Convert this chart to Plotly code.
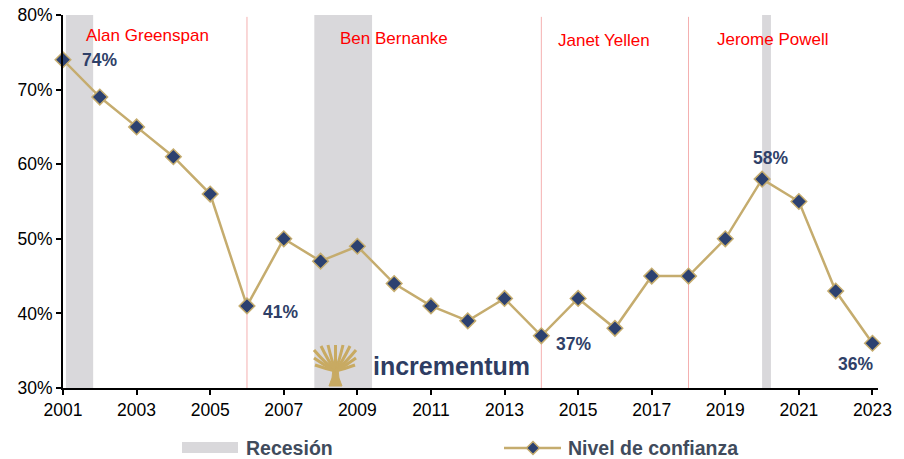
import plotly.graph_objects as go

years = list(range(2001, 2024))
confianza = [74, 69, 65, 61, 56, 41, 50, 47, 49, 44, 41, 39, 42, 37, 42, 38, 45, 45, 50, 58, 55, 43, 36]

recesiones = [(2001.08, 2001.82), (2007.83, 2009.40), (2020.0, 2020.24)]
cambios_presidente = [2006, 2014, 2018]
presidentes = ["Alan Greenspan", "Ben Bernanke", "Janet Yellen", "Jerome Powell"]
presidentes_x = [2003.3, 2010.0, 2015.7, 2020.3]
presidentes_py = [35, 38, 40, 39.5]

y_ticks = [30, 40, 50, 60, 70, 80]
y_ticktext = [f"{v}%" for v in y_ticks]
x_ticks = list(range(2001, 2024, 2))

etiquetas_anios = [2001, 2006, 2014, 2020, 2023]
etiquetas_shift = [(36, 0), (34, -6), (32, -8), (8, 21), (-17, -21)]

LINE = "#C5AC6E"
NAVY = "#2C4170"
LABEL = "#2F4068"
GRAY = "#D9D8DB"
PINK = "#F4B0B0"
GOLD = "#C8AA62"
FONT = "Liberation Sans, Arial, sans-serif"

W, H = 904, 459
ML, MR, MT, MB = 63, 26, 15, 71
PW, PH = W - ML - MR, H - MT - MB


def pxx(px):
    return (px - ML) / PW


def pxy(py):
    return (H - MB - py) / PH


fig = go.Figure()

fig.add_trace(go.Scatter(
    x=years, y=confianza, mode="lines+markers", name="Nivel de confianza",
    line=dict(color=LINE, width=2.5),
    marker=dict(symbol="diamond", size=12, color=NAVY, line=dict(color=LINE, width=1.5)),
    showlegend=False, cliponaxis=False,
))

shapes = []
for x0, x1 in recesiones:
    shapes.append(dict(type="rect", xref="x", yref="paper", x0=x0, x1=x1, y0=0, y1=1,
                       fillcolor=GRAY, line=dict(width=0), layer="below"))
for xv in cambios_presidente:
    shapes.append(dict(type="line", xref="x", yref="paper", x0=xv, x1=xv, y0=0, y1=0.995,
                       line=dict(color=PINK, width=1), layer="below"))

# logo tree (decoration)
trunk = [(329, 386), (332, 378), (333, 369), (338, 369), (339, 378), (342, 386)]
shapes.append(dict(type="path", xref="paper", yref="paper",
                   path="M " + " L ".join(f"{pxx(a):.5f},{pxy(b):.5f}" for a, b in trunk) + " Z",
                   fillcolor=GOLD, line=dict(color=GOLD, width=1)))
tree_tips = [(314, 350), (314, 358), (315, 365), (321, 346), (328, 345),
             (335.5, 345), (343, 345), (350, 346), (356, 350), (356, 358), (355, 365)]
bx0, by0 = 335.5, 371
for tx, ty in tree_tips:
    qx = (tx + bx0) / 2
    qy = ty + (by0 - ty) * 0.6
    shapes.append(dict(type="path", xref="paper", yref="paper",
                       path=(f"M {pxx(bx0):.5f},{pxy(by0):.5f} Q {pxx(qx):.5f},{pxy(qy):.5f} "
                             f"{pxx(tx):.5f},{pxy(ty):.5f}"),
                       line=dict(color=GOLD, width=3)))

# manual legend
shapes.append(dict(type="rect", xref="paper", yref="paper",
                   x0=pxx(182), x1=pxx(238), y0=pxy(453), y1=pxy(442),
                   fillcolor=GRAY, line=dict(width=0)))
shapes.append(dict(type="line", xref="paper", yref="paper",
                   x0=pxx(504), x1=pxx(561), y0=pxy(448), y1=pxy(448),
                   line=dict(color=LINE, width=2.5)))
cx, cy, r = 533, 448, 6.5
shapes.append(dict(type="path", xref="paper", yref="paper",
                   path=f"M {pxx(cx - r)},{pxy(cy)} L {pxx(cx)},{pxy(cy - r)} L {pxx(cx + r)},{pxy(cy)} L {pxx(cx)},{pxy(cy + r)} Z",
                   fillcolor=NAVY, line=dict(color=LINE, width=1.5)))

annotations = []
for name, xp, yp in zip(presidentes, presidentes_x, presidentes_py):
    annotations.append(dict(x=xp, y=pxy(yp), xref="x", yref="paper", text=name,
                            xanchor="center", yanchor="middle",
                            showarrow=False, font=dict(family=FONT, size=17, color="#FF0000")))
for yr, (dx, dy) in zip(etiquetas_anios, etiquetas_shift):
    v = confianza[years.index(yr)]
    annotations.append(dict(x=yr, y=v, xref="x", yref="y", text=f"<b>{v}%</b>", showarrow=False,
                            xanchor="center", yanchor="middle",
                            xshift=dx, yshift=dy, font=dict(family=FONT, size=17.5, color=LABEL)))
annotations.append(dict(x=pxx(371), y=pxy(366), xref="paper", yref="paper",
                        text="<b>incrementum</b>", showarrow=False, xanchor="left", yanchor="middle",
                        font=dict(family=FONT, size=25, color="#2E3D63")))
annotations.append(dict(x=pxx(244), y=pxy(448), xref="paper", yref="paper",
                        text="<b>Recesión</b>", showarrow=False, xanchor="left", yanchor="middle",
                        font=dict(family=FONT, size=19.5, color="#404B5C")))
annotations.append(dict(x=pxx(566), y=pxy(448), xref="paper", yref="paper",
                        text="<b>Nivel de confianza</b>", showarrow=False, xanchor="left",
                        yanchor="middle",
                        font=dict(family=FONT, size=19.5, color="#404B5C")))

fig.update_layout(
    width=W, height=H, autosize=False,
    margin=dict(l=ML, r=MR, t=MT, b=MB, pad=0, autoexpand=False),
    paper_bgcolor="white", plot_bgcolor="white",
    font=dict(family=FONT, size=17, color="black"),
    showlegend=False,
    shapes=shapes, annotations=annotations,
    xaxis=dict(range=[2001, 2023.15], tickmode="array", tickvals=x_ticks, automargin=False,
               showgrid=False, zeroline=False, showline=True, linecolor="black", linewidth=2,
               ticks="outside", ticklen=5, tickcolor="black", tickwidth=2,
               tickfont=dict(family=FONT, size=17.5, color="black")),
    yaxis=dict(range=[30, 80], tickmode="array", tickvals=y_ticks, ticktext=y_ticktext,
               automargin=False,
               showgrid=False, zeroline=False, showline=True, linecolor="black", linewidth=2,
               ticks="outside", ticklen=5, tickcolor="black", tickwidth=2,
               tickfont=dict(family=FONT, size=17.5, color="black")),
)

fig.write_html(
    "out.html",
    config={"displayModeBar": False},
    post_script="document.body.style.margin='0';document.body.style.overflow='hidden';",
)
